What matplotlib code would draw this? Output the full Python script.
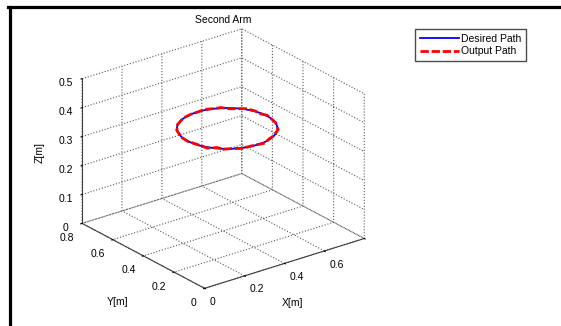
import numpy as np
import matplotlib
matplotlib.use("Agg")
import matplotlib.pyplot as plt
from matplotlib.lines import Line2D

plt.rcParams['font.family'] = ['Liberation Sans', 'DejaVu Sans']
plt.rcParams['grid.linestyle'] = ':'
plt.rcParams['grid.color'] = '0.35'
plt.rcParams['grid.linewidth'] = 0.8

# desired circle (z = 0.35)
des_x = [0.620, 0.617, 0.608, 0.593, 0.573, 0.549, 0.520, 0.488, 0.455, 0.420,
         0.385, 0.352, 0.320, 0.291, 0.267, 0.247, 0.232, 0.223, 0.220, 0.223,
         0.232, 0.247, 0.267, 0.291, 0.320, 0.352, 0.385, 0.420, 0.455, 0.488,
         0.520, 0.549, 0.573, 0.593, 0.608, 0.617, 0.620]
des_y = [0.400, 0.435, 0.468, 0.500, 0.529, 0.553, 0.573, 0.588, 0.597, 0.600,
         0.597, 0.588, 0.573, 0.553, 0.529, 0.500, 0.468, 0.435, 0.400, 0.365,
         0.332, 0.300, 0.271, 0.247, 0.227, 0.212, 0.203, 0.200, 0.203, 0.212,
         0.227, 0.247, 0.271, 0.300, 0.332, 0.365, 0.400]
des_z = [0.35] * 37

# output path (noisy tracking)
out_x = [0.622, 0.615, 0.610, 0.591, 0.575, 0.547, 0.522, 0.486, 0.457, 0.418,
         0.387, 0.350, 0.322, 0.289, 0.269, 0.245, 0.234, 0.221, 0.222, 0.221,
         0.234, 0.245, 0.269, 0.289, 0.322, 0.350, 0.387, 0.418, 0.457, 0.486,
         0.522, 0.547, 0.575, 0.591, 0.610, 0.615, 0.622]
out_y = [0.398, 0.437, 0.466, 0.502, 0.527, 0.555, 0.571, 0.590, 0.595, 0.602,
         0.595, 0.590, 0.571, 0.555, 0.527, 0.502, 0.466, 0.437, 0.398, 0.367,
         0.330, 0.302, 0.269, 0.249, 0.225, 0.214, 0.201, 0.202, 0.201, 0.214,
         0.225, 0.249, 0.269, 0.302, 0.330, 0.367, 0.398]
out_z = [0.352, 0.348, 0.351, 0.353, 0.349, 0.347, 0.352, 0.350, 0.353, 0.348,
         0.351, 0.349, 0.352, 0.347, 0.350, 0.353, 0.349, 0.351, 0.348, 0.352,
         0.350, 0.347, 0.353, 0.349, 0.351, 0.348, 0.352, 0.350, 0.347, 0.351,
         0.353, 0.349, 0.350, 0.352, 0.348, 0.351, 0.352]

xticks = [0, 0.2, 0.4, 0.6, 0.8]
xticklabels = ['0', '0.2', '0.4', '0.6', '']
yticks = [0, 0.2, 0.4, 0.6, 0.8]
yticklabels = ['0', '0.2', '0.4', '0.6', '0.8']
zticks = [0, 0.1, 0.2, 0.3, 0.4, 0.5]
zticklabels = ['0', '0.1', '0.2', '0.3', '0.4', '0.5']

W, H = 561, 326
fig = plt.figure(figsize=(W / 100, H / 100), dpi=100)
ax = fig.add_axes([0.0, 0.0, 0.78, 1.0], projection='3d', proj_type='ortho')
ax.view_init(elev=24, azim=-127.5)
ax.set_box_aspect((1, 1, 0.787), zoom=0.97)

ax.plot(des_x, des_y, des_z, color='blue', lw=1.3, label='Desired Path')
ax.plot(out_x, out_y, out_z, color='red', lw=2.0, ls=(0, (3, 1)),
        label='Output Path')

ax.set_xlim(0, 0.8)
ax.set_ylim(0, 0.8)
ax.set_zlim(0, 0.5)
ax.set_xticks(xticks)
ax.set_xticklabels(xticklabels, ha='left')
ax.set_yticks(yticks)
ax.set_yticklabels(yticklabels, ha='right')
ax.set_zticks(zticks)
ax.set_zticklabels(zticklabels)
ax.tick_params(labelsize=7.5)
ax.tick_params(axis='x', pad=-3)
ax.tick_params(axis='y', pad=-2)
ax.tick_params(axis='z', pad=-1)

for a in (ax.xaxis, ax.yaxis, ax.zaxis):
    a.set_pane_color((1, 1, 1, 0))
    a.pane.set_edgecolor((1, 1, 1, 0))
    a.line.set_color('0.25')
    a.line.set_linewidth(0.8)
    a._axinfo['tick']['inward_factor'] = 0.08
    a._axinfo['tick']['outward_factor'] = 0.0
    a._axinfo['tick']['color'] = '0.25'

# axis labels + title placed like the matlab figure
fig.text(293 / W, 1 - 303 / H, 'X[m]', fontsize=7.5, ha='center', va='center')
fig.text(118 / W, 1 - 302 / H, 'Y[m]', fontsize=7.5, ha='center', va='center')
fig.text(40 / W, 1 - 153 / H, 'Z[m]', fontsize=7.5, ha='center', va='center',
         rotation=90)
fig.text(223 / W, 1 - 20 / H, 'Second Arm', fontsize=7.5, ha='center',
         va='center')

ax.legend(loc='upper left', bbox_to_anchor=(415 / W, 1 - 29 / H),
          bbox_transform=fig.transFigure, fontsize=7.5, fancybox=False,
          edgecolor='0.3', framealpha=1, handlelength=3.8, borderpad=0.45,
          labelspacing=0.25, handletextpad=0.2, borderaxespad=0)

# screenshot frame
fig.add_artist(Line2D([8 / W, 1], [1 - 6.5 / H] * 2, color='black', lw=2.3,
                      transform=fig.transFigure))
fig.add_artist(Line2D([9.5 / W] * 2, [0, 1 - 6.5 / H], color='black', lw=2.3,
                      transform=fig.transFigure))

fig.savefig('out.png', dpi=100)
